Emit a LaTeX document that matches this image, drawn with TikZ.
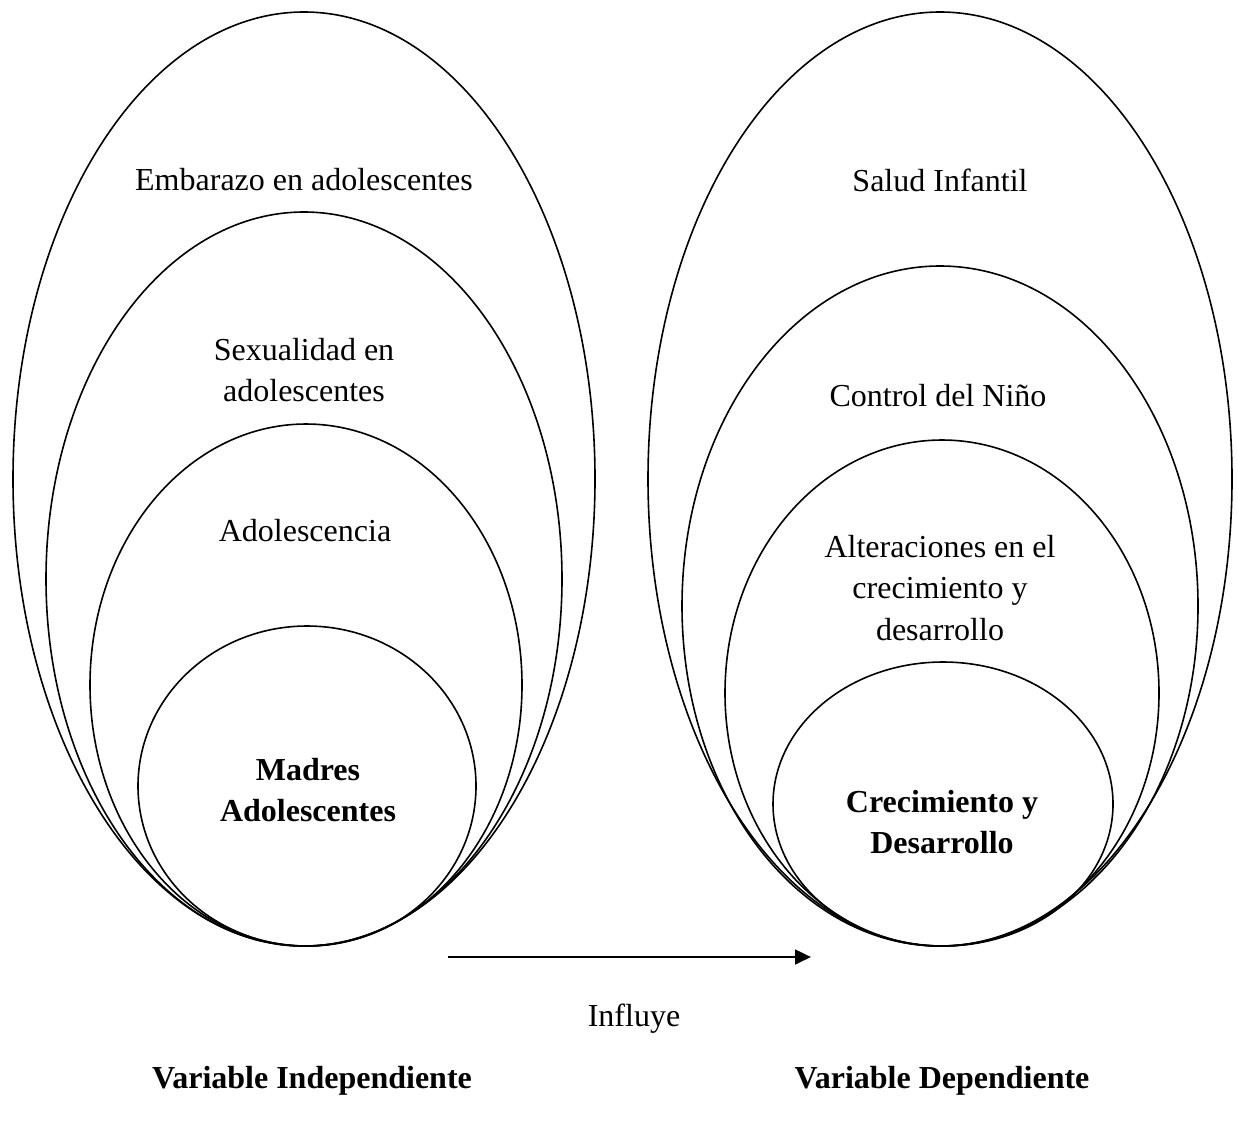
\documentclass[tikz,border=0pt]{standalone}
\usepackage{fontspec}
\setmainfont{Liberation Serif}
\usetikzlibrary{arrows.meta,positioning}

\begin{document}
\begin{tikzpicture}[
    x=0.375pt, y=-0.375pt,
    ring/.style={draw=black, line width=0.6pt},
    lbl/.style={font=\fontsize{12}{15.4}\selectfont, align=center, inner sep=0pt},
    boldlbl/.style={lbl, font=\fontsize{12}{15.4}\selectfont\bfseries},
    arrow/.style={-{Triangle[length=6pt, width=5.5pt]}, line width=1pt}
]
\useasboundingbox (0,0) rectangle (1237,1122);

% variable independiente
\draw[ring] (304,479) ellipse [x radius=291, y radius=467];
\draw[ring] (304,579) ellipse [x radius=258, y radius=367];
\draw[ring] (306,685) ellipse [x radius=216, y radius=261];
\draw[ring] (307,786) ellipse [x radius=169, y radius=160];

\node[lbl] (embarazo) at (304,180) {Embarazo en adolescentes};
\node[lbl] (sexualidad) at (304,370) {Sexualidad en\\adolescentes};
\node[lbl] (adolescencia) at (305,531) {Adolescencia};
\node[boldlbl] (madres) at (308,790) {Madres\\Adolescentes};

% variable dependiente
\draw[ring] (940,479) ellipse [x radius=292, y radius=467];
\draw[ring] (940,606) ellipse [x radius=258, y radius=340];
\draw[ring] (942,693) ellipse [x radius=217, y radius=253];
\draw[ring] (943,804) ellipse [x radius=170, y radius=142];

\node[lbl] (salud) at (940,180) {Salud Infantil};
\node[lbl] (control) at (938,396) {Control del Niño};
\node[lbl] (alteraciones) at (940,588) {Alteraciones en el\\crecimiento y\\desarrollo};
\node[boldlbl] (crecimiento) at (942,822) {Crecimiento y\\Desarrollo};

% influye
\coordinate (from) at (448,957);
\coordinate (to) at (811,957);
\draw[arrow] (from) -- (to);
\node[lbl] (influye) at (634,1019) {Influye};

\node[boldlbl] (independiente) at (312,1081) {Variable Independiente};
\node[boldlbl] (dependiente) at (942,1081) {Variable Dependiente};

\end{tikzpicture}
\end{document}
